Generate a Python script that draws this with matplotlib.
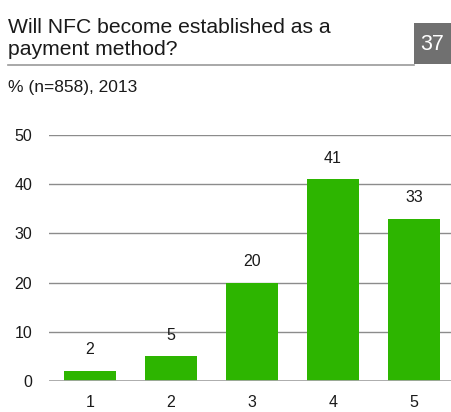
import matplotlib.pyplot as plt
from matplotlib.patches import Rectangle

plt.rcParams['font.family'] = ['Liberation Sans', 'DejaVu Sans']

categories = ['1', '2', '3', '4', '5']
shares = [2, 5, 20, 41, 33]
yticks = [0, 10, 20, 30, 40, 50]

title = 'Will NFC become established as a\npayment method?'
subtitle = '% (n=858), 2013'
page_no = '37'

green = '#2db500'
grid_grey = '#8c8c8c'

fig = plt.figure(figsize=(4.52, 4.12), dpi=100)

# header: title, rule underneath and numbered box at the right
fig.text(8 / 452, 1 - 55 / 412, title, fontsize=15.2, color='#1a1a1a',
         va='baseline', ha='left', linespacing=1.2)
fig.add_artist(plt.Line2D([8 / 452, 414 / 452], [1 - 65 / 412, 1 - 65 / 412],
                          color='#9a9a9a', lw=1.2))
fig.add_artist(Rectangle((414 / 452, 1 - 64 / 412), 38 / 452, 41 / 412,
                         transform=fig.transFigure, color='#707070', lw=0))
fig.text(432.5 / 452, 1 - 44 / 412, page_no, fontsize=15.5, color='white',
         ha='center', va='center')
fig.text(8 / 452, 1 - 92 / 412, subtitle, fontsize=12.5, color='#1a1a1a',
         va='baseline', ha='left')

ax = fig.add_axes([49.5 / 452, 1 - 381 / 412, 405 / 452, 246 / 412])
x = range(1, len(categories) + 1)
bars = ax.bar(x, shares, width=0.63, color=green, zorder=3)
for b, v in zip(bars, shares):
    ax.annotate(str(v), (b.get_x() + b.get_width() / 2, v),
                xytext=(0, 12), textcoords='offset points',
                ha='center', va='baseline', fontsize=11.5, color='#1a1a1a')

ax.set_xlim(0.5, 5.5)
ax.set_ylim(0, 50)
ax.set_yticks(yticks)
ax.set_xticks(list(x))
ax.set_xticklabels(categories)
ax.grid(axis='y', color=grid_grey, lw=1, zorder=0)
ax.axhline(0, color='#a8a8a8', lw=2, zorder=4)
for s in ax.spines.values():
    s.set_visible(False)
ax.tick_params(length=0, labelsize=11.5, labelcolor='#1a1a1a')
ax.tick_params(axis='y', pad=12.5)
ax.tick_params(axis='x', pad=10)

fig.savefig('out.png', dpi=100)
